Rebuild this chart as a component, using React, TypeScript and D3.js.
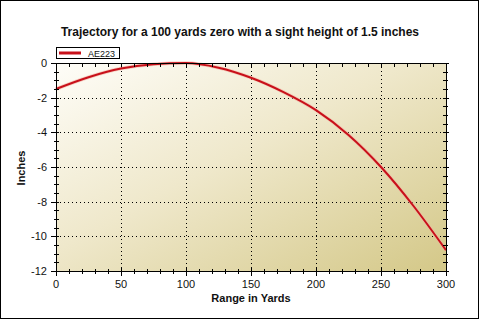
import React from 'react';
import * as d3 from 'd3';

// trajectory readings, every 25 yards
const rangeYards = [0, 25, 50, 75, 100, 125, 150, 175, 200, 225, 250, 275, 300];
const dropInches = [-1.5, -0.82, -0.32, -0.07, 0, -0.27, -0.85, -1.68, -2.72, -4.15, -6.0, -8.25, -10.8];
const seriesName = 'AE223';
const xTicks = [0, 50, 100, 150, 200, 250, 300];
const yTicks = [0, -2, -4, -6, -8, -10, -12];

const W = 480;
const H = 320;
const margin = { top: 63, right: 34, bottom: 49, left: 56 };

export default function App() {
  const x = d3.scaleLinear().domain([0, 300]).range([margin.left, W - margin.right]);
  const y = d3.scaleLinear().domain([-12, 0]).range([H - margin.bottom, margin.top]);

  const pts = rangeYards.map((r, i) => [r, dropInches[i]] as [number, number]);
  const line = d3.line<[number, number]>()
    .x(d => x(d[0]))
    .y(d => y(d[1]))
    .curve(d3.curveMonotoneX);

  const x0 = x(0), x1 = x(300), y0 = y(-12), y1 = y(0);
  const xMinor = d3.range(0, 301, 10).filter(v => v % 50 !== 0);
  const yMinor = d3.range(-12, 0.01, 0.5).filter(v => v % 2 !== 0);

  const font = 'Arial, "Liberation Sans", sans-serif';

  return (
    <svg width={W} height={H} style={{ position: 'absolute', left: 0, top: 0 }} fontFamily={font}>
      <defs>
        <linearGradient id="bg" x1="0" y1="0" x2="1" y2="1">
          <stop offset="0%" stopColor="#fefdf8" />
          <stop offset="45%" stopColor="#efe8cb" />
          <stop offset="100%" stopColor="#d4c888" />
        </linearGradient>
      </defs>
      <rect x={0} y={0} width={W} height={H} fill="#fff" />
      <rect x={0.5} y={0.5} width={478} height={318} fill="none" stroke="#000" />

      <text x={240} y={36} textAnchor="middle" fontSize={12} fontWeight="bold" fill="#111">
        Trajectory for a 100 yards zero with a sight height of 1.5 inches
      </text>

      {/* legend */}
      <rect x={56.5} y={47.5} width={63} height={11} fill="#fff" stroke="#000" />
      <line x1={59} x2={81} y1={53} y2={53} stroke="#c8101a" strokeWidth={3} />
      <text x={88} y={56.5} fontSize={9} fill="#111">{seriesName}</text>

      {/* plot area */}
      <rect x={x0} y={y1} width={x1 - x0} height={y0 - y1} fill="url(#bg)" />

      {xTicks.slice(1, -1).map(v => (
        <line key={'gx' + v} x1={Math.round(x(v)) + 0.5} x2={Math.round(x(v)) + 0.5} y1={y1} y2={y0}
          stroke="#000" strokeDasharray="1 3" />
      ))}
      {yTicks.slice(1, -1).map(v => (
        <line key={'gy' + v} x1={x0} x2={x1} y1={Math.round(y(v)) + 0.5} y2={Math.round(y(v)) + 0.5}
          stroke="#000" strokeDasharray="1 3" />
      ))}

      <path d={line(pts) || ''} fill="none" stroke="#f4b0a0" strokeWidth={3.5} strokeLinejoin="round" opacity={0.6} />
      <path d={line(pts) || ''} fill="none" stroke="#c8101a" strokeWidth={2} strokeLinejoin="round" />

      {/* frame */}
      <rect x={x0 + 0.5} y={y1 + 0.5} width={x1 - x0} height={y0 - y1} fill="none" stroke="#000" />

      {/* minor ticks */}
      {xMinor.map(v => (
        <g key={'mx' + v}>
          <line x1={Math.round(x(v)) + 0.5} x2={Math.round(x(v)) + 0.5} y1={y0 - 2} y2={y0 + 3} stroke="#000" />
          <line x1={Math.round(x(v)) + 0.5} x2={Math.round(x(v)) + 0.5} y1={y1} y2={y1 + 4} stroke="#000" />
        </g>
      ))}
      {yMinor.map(v => (
        <g key={'my' + v}>
          <line x1={x0 - 2} x2={x0 + 3} y1={Math.round(y(v)) + 0.5} y2={Math.round(y(v)) + 0.5} stroke="#000" />
          <line x1={x1 - 3} x2={x1 + 2} y1={Math.round(y(v)) + 0.5} y2={Math.round(y(v)) + 0.5} stroke="#000" />
        </g>
      ))}

      {/* major ticks and labels */}
      {xTicks.map(v => (
        <g key={'tx' + v}>
          <line x1={Math.round(x(v)) + 0.5} x2={Math.round(x(v)) + 0.5} y1={y0 - 3} y2={y0 + 5} stroke="#000" />
          <line x1={Math.round(x(v)) + 0.5} x2={Math.round(x(v)) + 0.5} y1={y1} y2={y1 + 4} stroke="#000" />
          <text x={x(v)} y={288} textAnchor="middle" fontSize={11} fill="#111">{v}</text>
        </g>
      ))}
      {yTicks.map(v => (
        <g key={'ty' + v}>
          <line x1={x0 - 5} x2={x0 + 3} y1={Math.round(y(v)) + 0.5} y2={Math.round(y(v)) + 0.5} stroke="#000" />
          <line x1={x1 - 3} x2={x1 + 3} y1={Math.round(y(v)) + 0.5} y2={Math.round(y(v)) + 0.5} stroke="#000" />
          <text x={47} y={y(v) + 4} textAnchor="end" fontSize={11} fill="#111">{v}</text>
        </g>
      ))}

      <text x={251} y={302} textAnchor="middle" fontSize={11} fontWeight="bold" fill="#111">Range in Yards</text>
      <text transform={`translate(25,168) rotate(-90)`} textAnchor="middle" fontSize={11} fontWeight="bold" fill="#111">Inches</text>
    </svg>
  );
}
